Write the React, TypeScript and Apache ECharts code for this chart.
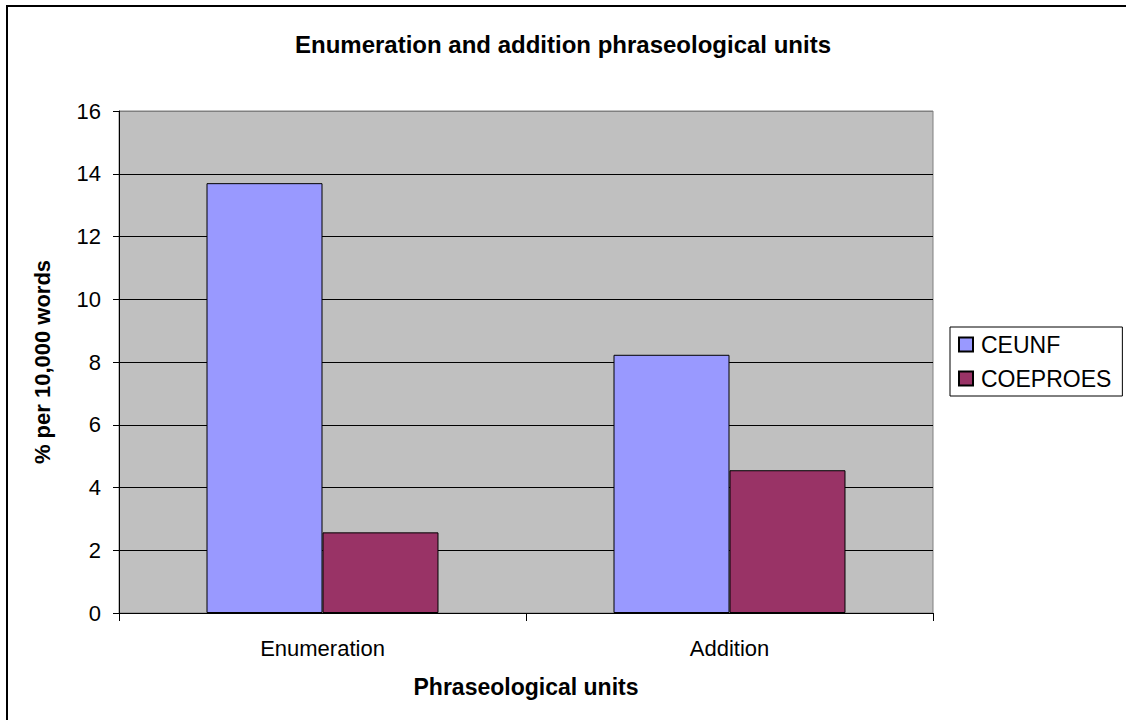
import React, { useEffect, useRef } from "react";
import * as echarts from "echarts";

const categories = ["Enumeration", "Addition"];
const ceunf = [13.7, 8.23];
const coeproes = [2.57, 4.55];
const seriesNames = ["CEUNF", "COEPROES"];
const titleText = "Enumeration and addition phraseological units";
const xName = "Phraseological units";
const yName = "% per 10,000 words";

const FONT = "'Liberation Sans', Arial, sans-serif";

export default function App() {
  const ref = useRef<HTMLDivElement>(null);
  useEffect(() => {
    if (!ref.current) return;
    const chart = echarts.init(ref.current, undefined, { renderer: "svg" });
    const gridColors = ["#000", "#000", "#000", "#000", "#000", "#000", "#000", "#000", "#808080"];
    chart.setOption({
      animation: false,
      backgroundColor: "#fff",
      textStyle: { fontFamily: FONT },
      title: {
        text: titleText,
        left: "center",
        top: 27,
        textStyle: { fontSize: 24, fontWeight: "bold", color: "#000", fontFamily: FONT },
      },
      graphic: [
        {
          type: "polyline",
          shape: { points: [[7, 900], [7, 6], [1400, 6]] },
          style: { fill: "none", stroke: "#000", lineWidth: 2 },
          silent: true,
        },
      ],
      legend: {
        orient: "vertical",
        left: 950,
        top: 327,
        padding: [6, 11, 6, 8],
        itemWidth: 14,
        itemHeight: 14,
        itemGap: 11,
        icon: "rect",
        borderColor: "#000",
        borderWidth: 1,
        textStyle: { fontSize: 23, color: "#000", fontFamily: FONT, padding: [0, 0, 0, 3] },
        data: seriesNames,
      },
      grid: {
        left: 119,
        right: 193,
        top: 111,
        bottom: 107,
        show: true,
        backgroundColor: "#C0C0C0",
        borderColor: "#808080",
        borderWidth: 1,
      },
      xAxis: {
        type: "category",
        data: categories,
        boundaryGap: true,
        name: xName,
        nameLocation: "middle",
        nameGap: 62,
        nameTextStyle: { fontSize: 23, fontWeight: "bold", color: "#000", fontFamily: FONT },
        axisLine: { lineStyle: { color: "#000", width: 1 } },
        axisTick: { show: true, length: 8, lineStyle: { color: "#000" } },
        axisLabel: { fontSize: 22, color: "#000", margin: 24, fontFamily: FONT },
      },
      yAxis: {
        type: "value",
        min: 0,
        max: 16,
        interval: 2,
        name: yName,
        nameLocation: "middle",
        nameGap: 66,
        nameTextStyle: { fontSize: 22, fontWeight: "bold", color: "#000", fontFamily: FONT },
        axisLine: { show: true, lineStyle: { color: "#000", width: 1 } },
        axisTick: { show: true, length: 6, lineStyle: { color: "#000" } },
        axisLabel: { fontSize: 22, color: "#000", margin: 18, fontFamily: FONT },
        splitLine: { show: true, lineStyle: { color: gridColors, width: 1 } },
      },
      series: [
        {
          name: seriesNames[0],
          type: "bar",
          data: ceunf,
          barGap: "0%",
          barCategoryGap: "43%",
          itemStyle: { color: "#9999FF", borderColor: "#000", borderWidth: 1 },
        },
        {
          name: seriesNames[1],
          type: "bar",
          data: coeproes,
          barGap: "0%",
          barCategoryGap: "43%",
          itemStyle: { color: "#993366", borderColor: "#000", borderWidth: 1 },
        },
      ],
    });
    return () => chart.dispose();
  }, []);
  return (
    <div
      ref={ref}
      style={{ position: "fixed", left: 0, top: 0, width: 1126, height: 720 }}
    />
  );
}
